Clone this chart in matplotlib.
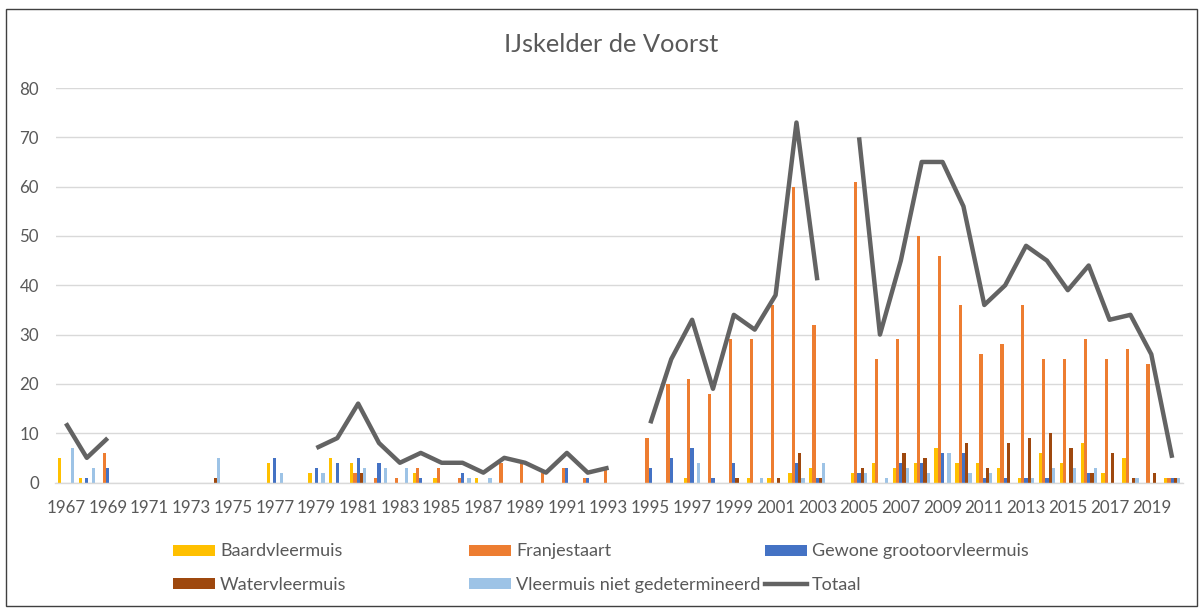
import numpy as np
import matplotlib
matplotlib.use("Agg")
import matplotlib.pyplot as plt
from matplotlib.patches import Rectangle, Patch
from matplotlib.lines import Line2D

plt.rcParams['font.family'] = ['Lato', 'DejaVu Sans']

years = list(range(1967, 2021))
N = None
baard = [5,1,0, 0,0,0,0,0,0,0, 4,0, 2,5,4,0,0,2,1,0,1,0,0,0,0,0,0, 0,
         0,0,1,0,0,1,1,2,3, 0, 2,4,3,4,7,4,4,3,1,6,4,8,2,5,0,1]
franje = [0,0,6, 0,0,0,0,0,0,0, 0,0, 0,0,2,1,1,3,3,1,0,4,4,2,3,1,3, 0,
          9,20,21,18,29,29,36,60,32, 0, 61,25,29,50,46,36,26,28,36,25,25,29,25,27,24,1]
gewone = [0,1,3, 0,0,0,0,0,0,0, 5,0, 3,4,5,4,0,1,0,2,0,0,0,0,3,1,0, 0,
          3,5,7,1,4,0,0,4,1, 0, 2,0,4,4,6,6,1,1,1,1,0,2,0,0,0,1]
water = [0,0,0, 0,0,0,0,1,0,0, 0,0, 0,0,2,0,0,0,0,0,0,0,0,0,0,0,0, 0,
         0,0,0,0,1,0,1,6,1, 0, 3,0,6,5,0,8,3,8,9,10,7,2,6,1,2,1]
vleer = [7,3,0, 0,0,0,0,5,0,0, 2,0, 2,0,3,3,3,0,0,1,1,0,0,0,0,0,0, 0,
         0,0,4,0,0,1,0,1,4, 0, 2,1,3,2,6,2,2,0,1,3,3,3,0,1,0,1]
totaal = [12,5,9, N,N,N,N,6,N,N, 11,N, 7,9,16,8,4,6,4,4,2,5,4,2,6,2,3, N,
          12,25,33,19,34,31,38,73,41, N, 70,30,45,65,65,56,36,40,48,45,39,44,33,34,26,5]

labels = ["Baardvleermuis", "Franjestaart", "Gewone grootoorvleermuis",
          "Watervleermuis", "Vleermuis niet gedetermineerd", "Totaal"]
colors = ["#FFC000", "#ED7D31", "#4472C4", "#9E480E", "#9DC3E6", "#636363"]
series = [baard, franje, gewone, water, vleer]

W, H = 1203, 610
fig = plt.figure(figsize=(W/100, H/100), dpi=100)
ax = fig.add_axes([55.5/W, 1-482.5/H, (1182.6-55.5)/W, (482.5-88)/H])

x = np.arange(len(years))
bw = 0.156
for k, (s, c) in enumerate(zip(series, colors)):
    ax.bar(x + (k-2)*bw, s, width=bw, color=c, linewidth=0, zorder=2)

tot = np.array([np.nan if v is None else v for v in totaal], dtype=float)
ax.plot(x, tot, color=colors[5], lw=3.2, solid_joinstyle='round',
        solid_capstyle='butt', zorder=3)

ax.set_xlim(-0.5, len(years)-0.5)
ax.set_ylim(0, 80)
ax.set_yticks(range(0, 81, 10))
ax.set_xticks(x[::2])
ax.set_xticklabels([str(y) for y in years[::2]])
ax.tick_params(axis='both', length=0, colors='#595959', labelsize=12.2)
ax.tick_params(axis='x', pad=12.5)
ax.tick_params(axis='y', pad=12)
ax.grid(axis='y', color='#D9D9D9', lw=1.0, zorder=0)
for sp in ['top', 'right', 'left']:
    ax.spines[sp].set_visible(False)
ax.spines['bottom'].set_color('#D9D9D9')
ax.spines['bottom'].set_linewidth(1.0)
ax.set_axisbelow(True)

fig.text(611/W, 1-44/H, "IJskelder de Voorst", ha='center', va='center',
         fontsize=18.3, color='#595959')

handles = [Patch(facecolor=c, edgecolor='none') for c in colors[:5]]
handles.append(Line2D([], [], color=colors[5], lw=3.2))
cols = [(0, 3), (1, 4), (2, 5)]
xs = [173, 469, 765]
fs = 13
for (a, b), xl in zip(cols, xs):
    leg = fig.legend([handles[a], handles[b]], [labels[a], labels[b]],
                     loc='center left', bbox_to_anchor=(xl/W, 1-568/H),
                     frameon=False, fontsize=fs, borderpad=0, borderaxespad=0,
                     handlelength=42/(fs*100/72), handleheight=10/(fs*100/72),
                     handletextpad=5/(fs*100/72), labelspacing=0.95)
    for t in leg.get_texts():
        t.set_color('#595959')

fig.patches.append(Rectangle((6/W, 1-606/H), (1197-6)/W, (606-9)/H,
                             transform=fig.transFigure, fill=False,
                             edgecolor='#404040', lw=1.0))

fig.savefig("out.png", dpi=100)
